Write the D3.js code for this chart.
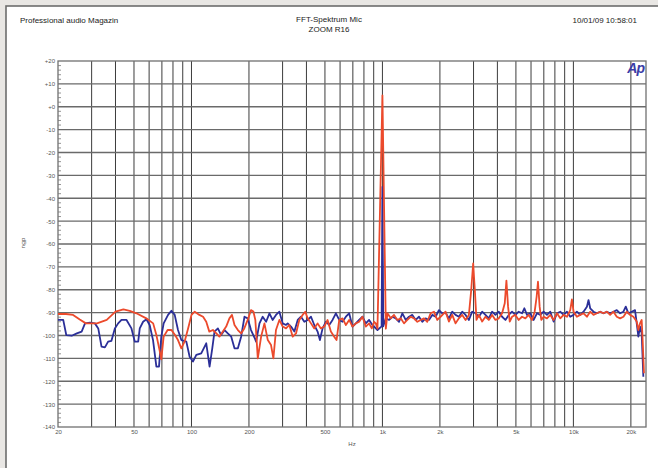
<!DOCTYPE html>
<html><head><meta charset="utf-8">
<script src="https://cdn.jsdelivr.net/npm/d3@7"></script>
<style>
html,body{margin:0;padding:0;background:#e9e7e4;overflow:hidden;width:658px;height:468px;}
svg{display:block;font-family:"Liberation Sans",Arial,sans-serif;}
</style></head>
<body>
<svg id="chart" width="658" height="468"></svg>
<script>
// ---- data ----
const headerLeft = "Professional audio Magazin";
const titleLines = ["FFT-Spektrum Mic", "ZOOM R16"];
const headerRight = "10/01/09 10:58:01";
const xLabel = "Hz";
const yLabel = "dBu";
const xTickValues = [20, 50, 100, 200, 500, 1000, 2000, 5000, 10000, 20000];
const xTickLabels = ["20", "50", "100", "200", "500", "1k", "2k", "5k", "10k", "20k"];
const yTickValues = [20, 10, 0, -10, -20, -30, -40, -50, -60, -70, -80, -90, -100, -110, -120, -130, -140];
const yTickLabels = ["+20", "+10", "+0", "-10", "-20", "-30", "-40", "-50", "-60", "-70", "-80", "-90", "-100", "-110", "-120", "-130", "-140"];

const blueFreq = [20,21.3,22.1,23.6,25.1,26.6,27.7,29.4,31.2,32.5,33.8,35.2,36.6,38.1,39.7,41.3,43,45.7,48.5,50.5,52.6,53.6,55.8,58.1,60.4,62.9,65.5,67.6,69.5,71.5,75.4,78.5,81.7,85,88.5,94,97.8,101.8,106,112.5,119.5,124.4,128.5,132,137.5,143,149,155,161.5,168,175,182,189.5,197,
205,214,218,227,236,246,256,266,277,288.6,300.4,312.7,319,332,345.8,360,374.5,390,406,422.6,439.6,457.5,470.5,486,506,526.5,548,570.5,594,618,643.5,669.5,697,725.5,755,786,818,851.5,886,942,990,1000,1010,1041,1084,1128,1174,1222,1272,1324,1378,1434,1493,1554,1617,1683,1752,1824,1899,1976,2057,
2141,2229,2320,2415,2514,2617,2725,2836,2952,3071,3197,3328,3464,3606,3753,3907,4067,4233,4406,4586,4773,4968,5171,5383,5536,5716,5950,6194,6446,6710,6984,7270,7569,7878,8201,8537,8886,9250,9628,10022,10430,10860,11300,11770,12000,12245,12745,13266,13808,14373,14961,15573,16210,16873,17563,18281,18803,19410,20200,21030,21460,21890,22330,22780,23240];
const blueDb = [-93.2,-93.2,-99.8,-100.1,-99.1,-98.3,-94.7,-94.4,-94.7,-96.9,-104.9,-105.2,-102.7,-102.3,-96.9,-94.7,-93.2,-93.2,-96.9,-102.7,-102.7,-96.9,-94,-92.9,-95.4,-102,-113.6,-113.6,-100.5,-94.7,-91,-89.2,-91,-97.6,-102,-102.7,-109.3,-111.4,-108.5,-107.8,-103.4,-113.6,-105.6,-98.3,-96.9,-99.8,-97.6,-99.1,-100.5,-105.6,-105.6,-100.5,-91.8,-92.5,
-97.6,-101,-102.7,-94.7,-91.8,-94,-90.3,-93.2,-91,-89.6,-94.7,-95.4,-94.7,-96.1,-98.3,-93.2,-91.8,-94,-93.2,-91.8,-95.4,-98.3,-102,-96.9,-94,-95.4,-93.2,-90.3,-93.2,-94,-91.8,-90.3,-96.1,-94.7,-93.2,-91.8,-94.7,-93.2,-95.4,-97.6,-96,-35,-96,-92.5,-93.2,-91.8,-92.5,-94,-90.3,-93.2,-91.8,-91,-93.2,-91.8,-94,-92.5,-93.2,-91,-91.8,-88.9,-90.3,
-90,-92.5,-89.6,-91,-91.8,-89.6,-91,-93.2,-89.6,-90.3,-91.8,-89.6,-91,-92.5,-89.6,-91,-89.6,-91.8,-93.2,-91,-89.6,-91,-89.6,-90.3,-88.1,-91,-90.3,-93.2,-90.3,-91,-89.6,-91,-89.6,-93.9,-90.3,-89.6,-91,-89.6,-91.8,-91,-89.6,-91,-89.6,-87.4,-84.5,-88.1,-89.6,-90.3,-89.6,-90.3,-89.6,-90.3,-89.6,-88.9,-90.3,-89.6,-87.4,-90.3,-89.6,-88.9,-94.7,-100.5,-96.1,-99,-118];

const redFreq = [20,22,24,26,28,32,36,40,44,47.5,51.5,58,63,65.5,68,69.5,71.5,75,78.5,82,85,88.5,92,96,100,104,110,115,119.5,124,129.5,135,140,146,152,158,163,168,175,182,189,197,
205,211,216,222.5,231.6,241,251,261,268.5,277,288.6,300.4,312.7,325.5,338.9,352.7,367,382,394.5,406,422.6,439.6,457.5,476,496,516,537,559,575,594,618,643.5,669.5,697,725.5,755,786,818,851.5,879,904.6,923,942,1000,1042,1062,1106,1150,1197,1247,1297,1350,1406,1463,1523,1585,1650,1717,1788,1861,1937,2016,
2141,2229,2320,2415,2514,2617,2725,2836,2917,2986,3047,3108,3197,3328,3464,3606,3753,3907,4067,4233,4371,4459,4549,4641,4773,4968,5171,5383,5603,5832,6071,6268,6421,6524,6656,6791,6984,7270,7569,7878,8201,8537,8886,9250,9628,9823,10022,10430,10860,11300,11770,12245,12745,13266,13808,14373,14961,15573,16210,16873,17563,18281,19030,19800,20615,21460,21890,22330,22780,23050,23420];
const redDb = [-90.6,-90.6,-91,-93,-94.7,-94.7,-93.2,-89.6,-88.6,-89.2,-90.3,-92.5,-94.7,-99.8,-106.3,-110.4,-100.5,-97.6,-97.6,-99.8,-102,-105.6,-102.7,-96.9,-91,-89.6,-91,-91.8,-94,-98.3,-97.6,-99.1,-100.5,-98.3,-96.1,-92.5,-91,-95.4,-97.6,-99.1,-96.9,-93.2,
-88.9,-89.5,-93.2,-110,-100.5,-94.7,-102,-104.2,-110,-97.6,-93.2,-96.1,-96.9,-95.4,-100.5,-99.1,-93.2,-91,-89.6,-92.5,-94.7,-96.9,-94.7,-96.9,-96.1,-93.2,-98.3,-100.5,-102,-93.2,-92.5,-95.4,-93.2,-96.1,-94.7,-94,-91.8,-96.1,-94.7,-96.9,-94,-94.7,-97,5,-97,-90.3,-92.5,-91,-93.2,-92.5,-94.7,-93.2,-91.8,-92.5,-94,-93.2,-92.5,-94,-90.3,-89.6,-93.2,-91.8,
-89.6,-93.9,-91,-94.7,-92.5,-91,-93.2,-91,-80.1,-68.5,-80.1,-93.2,-91,-93.9,-91.8,-93.2,-91,-93.2,-92.5,-90.3,-85.9,-76,-87.4,-93.9,-91.8,-91,-93.2,-91.8,-92.5,-91,-93.2,-89.6,-83,-76.5,-87.4,-93.2,-91.8,-92.5,-91,-93.2,-90.3,-92.5,-91,-91.8,-88.9,-84.2,-89.6,-91.8,-91,-90.3,-91.8,-89.6,-91,-90.3,-89.6,-90.3,-89.6,-91,-89.6,-91.8,-92.5,-91.8,-89.6,-91,-91.8,-93.9,-97.6,-94.7,-93.2,-102,-116.5];

// ---- layout ----
const svg = d3.select("#chart");
const W = 658, H = 468;
const plot = {left: 58, right: 646, top: 61, bottom: 427};

// white panel
svg.append("rect").attr("x", 6).attr("y", 6).attr("width", W + 10).attr("height", H + 10)
  .attr("fill", "#ffffff").attr("stroke", "#6d6d6d").attr("stroke-width", 1.6);

const x = d3.scaleLog().domain([20, 24000]).range([plot.left, plot.right]);
const y = d3.scaleLinear().domain([-140, 20]).range([plot.bottom, plot.top]);

// header
const hdr = svg.append("g").attr("fill", "#222").attr("font-size", 8);
hdr.append("text").attr("x", 20).attr("y", 23).text(headerLeft);
hdr.append("text").attr("x", 329).attr("y", 22).attr("text-anchor", "middle").text(titleLines[0]);
hdr.append("text").attr("x", 329).attr("y", 32).attr("text-anchor", "middle").text(titleLines[1]);
hdr.append("text").attr("x", 637).attr("y", 23).attr("text-anchor", "end").text(headerRight);

// grid
const grid = svg.append("g");
grid.selectAll("line.v").data(x.ticks().filter(d => d > 20 && d < 24000)).join("line")
  .attr("x1", d => x(d)).attr("x2", d => x(d))
  .attr("y1", plot.top).attr("y2", plot.bottom)
  .attr("stroke", "#3c3c3c").attr("stroke-width", 1);
grid.selectAll("line.h").data(yTickValues.filter(d => d > -140 && d < 20)).join("line")
  .attr("x1", plot.left).attr("x2", plot.right)
  .attr("y1", d => y(d)).attr("y2", d => y(d))
  .attr("stroke", "#6a6a6a").attr("stroke-width", 1.3);

// frame
svg.append("rect").attr("x", plot.left).attr("y", plot.top)
  .attr("width", plot.right - plot.left).attr("height", plot.bottom - plot.top)
  .attr("fill", "none").attr("stroke", "#707070").attr("stroke-width", 1.3);

// y minor ticks
const minor = d3.range(-140, 21, 2).filter(d => d % 10 !== 0);
svg.append("g").selectAll("line").data(minor).join("line")
  .attr("x1", plot.left).attr("x2", plot.left + 3)
  .attr("y1", d => y(d)).attr("y2", d => y(d))
  .attr("stroke", "#777").attr("stroke-width", 0.8);

// y axis labels
const yAxis = d3.axisLeft(y).tickValues(yTickValues).tickSize(0).tickPadding(3)
  .tickFormat((d, i) => yTickLabels[i]);
const ya = svg.append("g").attr("transform", `translate(${plot.left},0)`).call(yAxis);
ya.select(".domain").remove();
ya.selectAll("text").attr("font-size", 6).attr("fill", "#555").attr("font-family", "Liberation Sans, Arial, sans-serif");

// x axis labels
const xAxis = d3.axisBottom(x).tickValues(xTickValues).tickSize(0).tickPadding(3)
  .tickFormat((d, i) => xTickLabels[i]);
const xa = svg.append("g").attr("transform", `translate(0,${plot.bottom})`).call(xAxis);
xa.select(".domain").remove();
xa.selectAll("text").attr("font-size", 6).attr("fill", "#555").attr("font-family", "Liberation Sans, Arial, sans-serif");

svg.append("text").attr("x", 352).attr("y", 446).attr("text-anchor", "middle")
  .attr("font-size", 6).attr("fill", "#555").text(xLabel);
svg.append("text").attr("transform", "translate(22,243) rotate(90)").attr("text-anchor", "middle")
  .attr("font-size", 6).attr("fill", "#555").text(yLabel);

// Ap logo
svg.append("text").attr("x", 644).attr("y", 73).attr("text-anchor", "end")
  .attr("font-size", 14).attr("font-weight", "bold").attr("font-style", "italic")
  .attr("fill", "#3b3ca6").attr("letter-spacing", -1).text("Ap");

// curves
svg.append("clipPath").attr("id", "clip").append("rect")
  .attr("x", plot.left).attr("y", plot.top - 2)
  .attr("width", plot.right - plot.left).attr("height", plot.bottom - plot.top + 2);

const line = d3.line().x(d => x(d[0])).y(d => y(d[1]));
const blue = blueFreq.map((f, i) => [f, blueDb[i]]);
const red = redFreq.map((f, i) => [f, redDb[i]]);

const curves = svg.append("g").attr("clip-path", "url(#clip)");
curves.append("path").datum(blue).attr("d", line)
  .attr("fill", "none").attr("stroke", "#2b2f98").attr("stroke-width", 1.8)
  .attr("stroke-linejoin", "round");
curves.append("path").datum(red).attr("d", line)
  .attr("fill", "none").attr("stroke", "#ec4a2c").attr("stroke-width", 1.8)
  .attr("stroke-linejoin", "round");
</script>
</body></html>
